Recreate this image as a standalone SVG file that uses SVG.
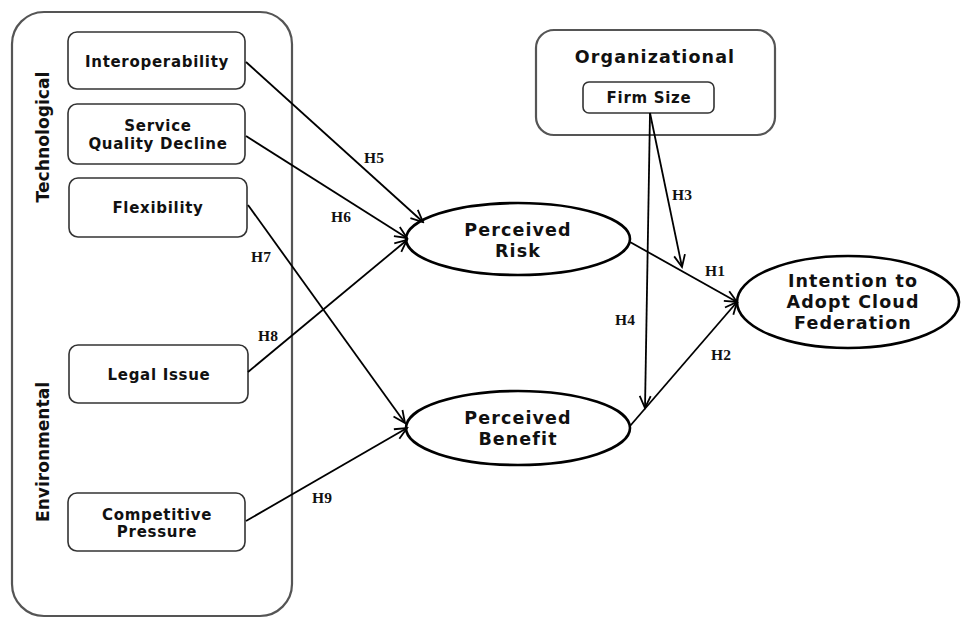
<svg xmlns="http://www.w3.org/2000/svg" width="964" height="619" viewBox="0 0 964 619">
<style>
.bg{fill:#fff}
.outer{fill:#fff;stroke:#555;stroke-width:2.2}
.box{fill:#fff;stroke:#333;stroke-width:1.6}
.ell{fill:#fff;stroke:#000;stroke-width:2.6}
.t{font-family:"DejaVu Sans",Verdana,sans-serif;font-weight:bold;fill:#111;text-anchor:middle}
.n{font-size:15px;letter-spacing:0.7px}
.e{font-size:17.5px;letter-spacing:1.1px}
.h{font-family:"Liberation Serif","Times New Roman",serif;font-weight:bold;font-size:15.5px;fill:#111;text-anchor:middle}
.c{stroke:#000;stroke-width:1.8;fill:none;marker-end:url(#arr)}
</style>
<defs>
<marker id="arr" markerUnits="userSpaceOnUse" markerWidth="16" markerHeight="14" viewBox="0 0 16 14" refX="14" refY="7" orient="auto">
<path d="M2,1.5 L14,7 L2,12.5" fill="none" stroke="#000" stroke-width="1.8"/>
</marker>
</defs>
<rect class="bg" x="0" y="0" width="964" height="619"/>

<g id="group-left">
<rect class="outer" x="12" y="12" width="280" height="604" rx="32" ry="32"/>
<text class="t" font-size="17.5" transform="translate(49,137) rotate(-90)" textLength="131" lengthAdjust="spacingAndGlyphs">Technological</text>
<text class="t" font-size="17.5" transform="translate(49,452) rotate(-90)" textLength="140" lengthAdjust="spacingAndGlyphs">Environmental</text>
</g>

<g id="node-interoperability">
<rect class="box" x="68" y="32" width="177" height="57" rx="9"/>
<text class="t n" x="157" y="67">Interoperability</text>
</g>
<g id="node-service">
<rect class="box" x="68" y="104" width="177" height="60" rx="9"/>
<text class="t n" x="158" y="131">Service</text>
<text class="t n" x="158" y="149">Quality Decline</text>
</g>
<g id="node-flexibility">
<rect class="box" x="69" y="178" width="178" height="59" rx="9"/>
<text class="t n" x="158" y="213">Flexibility</text>
</g>
<g id="node-legal">
<rect class="box" x="69" y="345" width="179" height="58" rx="9"/>
<text class="t n" x="159" y="380">Legal Issue</text>
</g>
<g id="node-competitive">
<rect class="box" x="68" y="493" width="177" height="58" rx="9"/>
<text class="t n" x="157" y="520">Competitive</text>
<text class="t n" x="157" y="537">Pressure</text>
</g>

<g id="group-organizational">
<rect class="outer" x="536" y="30" width="239" height="105" rx="18"/>
<text class="t e" x="655" y="63">Organizational</text>
</g>
<g id="node-firmsize">
<rect class="box" x="583" y="82" width="131" height="31" rx="6"/>
<text class="t n" x="649" y="103">Firm Size</text>
</g>

<g id="node-risk">
<ellipse class="ell" cx="518" cy="239" rx="112" ry="36"/>
<text class="t e" x="518" y="236">Perceived</text>
<text class="t e" x="518" y="257">Risk</text>
</g>
<g id="node-benefit">
<ellipse class="ell" cx="518" cy="428" rx="112" ry="37"/>
<text class="t e" x="518" y="424">Perceived</text>
<text class="t e" x="518" y="445">Benefit</text>
</g>
<g id="node-intention">
<ellipse class="ell" cx="848" cy="302" rx="111" ry="46"/>
<text class="t e" x="853" y="287">Intention to</text>
<text class="t e" x="853" y="308">Adopt Cloud</text>
<text class="t e" x="853" y="329">Federation</text>
</g>

<g id="connectors">
<line class="c" x1="246" y1="62" x2="423" y2="222"/>
<line class="c" x1="246" y1="136" x2="407" y2="238"/>
<line class="c" x1="248" y1="205" x2="405" y2="423"/>
<line class="c" x1="248" y1="372" x2="407" y2="240"/>
<line class="c" x1="246" y1="521" x2="407" y2="428"/>
<line class="c" x1="630" y1="242" x2="737" y2="302"/>
<line class="c" x1="630" y1="426" x2="737" y2="302"/>
<line class="c" x1="650" y1="113" x2="682" y2="267"/>
<line class="c" x1="650" y1="113" x2="645" y2="408"/>
<text class="h" x="374" y="163">H5</text>
<text class="h" x="341" y="222">H6</text>
<text class="h" x="261" y="262">H7</text>
<text class="h" x="268" y="341">H8</text>
<text class="h" x="322" y="503">H9</text>
<text class="h" x="715" y="276">H1</text>
<text class="h" x="721" y="360">H2</text>
<text class="h" x="682" y="200">H3</text>
<text class="h" x="625" y="325">H4</text>
</g>
</svg>
